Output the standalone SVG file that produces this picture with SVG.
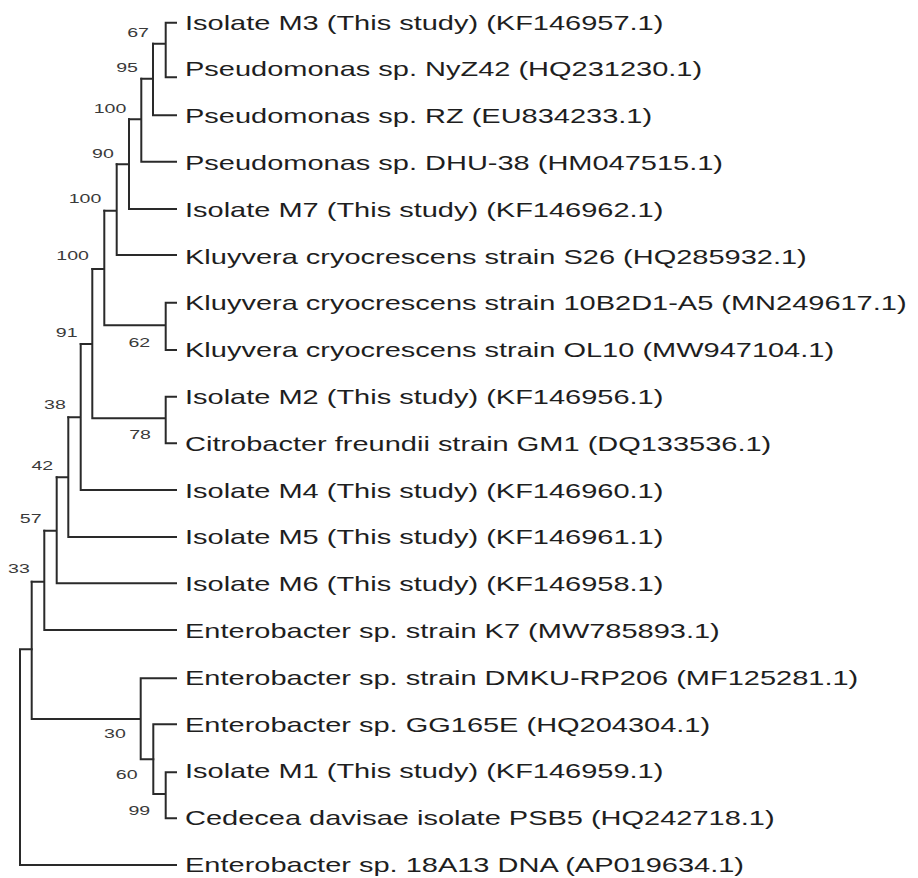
<svg xmlns="http://www.w3.org/2000/svg" width="918" height="878" viewBox="0 0 918 878">
<style>
.br{fill:none;stroke:#2a2a2a;stroke-width:2;stroke-linecap:square}
.lb{font-family:"Liberation Sans",Arial,sans-serif;font-size:20px;fill:#1e1e1e}
.bs{font-family:"Liberation Sans",Arial,sans-serif;font-size:13.5px;fill:#3a3a3a;text-anchor:middle}
</style>
<rect width="918" height="878" fill="#ffffff"/>
<g id="connectors">
<path class="br" d="M165.7,22.7V77.3M165.7,22.7H176M165.7,77.3H176M153,43.7H165.7"/>
<path class="br" d="M153,43.7V115.3H176M141.3,78.7H153"/>
<path class="br" d="M141.3,78.7V161.7H176M129,119.3H141.3"/>
<path class="br" d="M129,119.3V209H176M116.7,164.3H129"/>
<path class="br" d="M116.7,164.3V255H176M104.3,210.7H116.7"/>
<path class="br" d="M104.3,210.7V325.3H165.7M165.7,302.7V350M165.7,302.7H176M165.7,350H176M92.3,269H104.3"/>
<path class="br" d="M92.3,269V418.3H165.7M165.7,396.7V443.3M165.7,396.7H176M165.7,443.3H176M80.7,344H92.3"/>
<path class="br" d="M80.7,344V490H176M68.3,417.3H80.7"/>
<path class="br" d="M68.3,417.3V537H176M56.7,477.3H68.3"/>
<path class="br" d="M56.7,477.3V583.3H176M44.3,530.7H56.7"/>
<path class="br" d="M44.3,530.7V630H176M31.7,581.7H44.3"/>
<path class="br" d="M31.7,581.7V719H140.7M140.7,678.3V759.3M140.7,678.3H176M140.7,759.3H153.3"/>
<path class="br" d="M153.3,724.3V794M153.3,724.3H176M153.3,794H165.7M165.7,772.3V818.3M165.7,772.3H176M165.7,818.3H176"/>
<path class="br" d="M20,649.3H31.7M20,649.3V865H176"/>
</g>
<g id="leaves" transform="scale(1.45,1)">
<g id="leaf-M3"><text class="lb" x="127.6" y="29.7">Isolate M3 (This study) (KF146957.1)</text></g>
<g id="leaf-NyZ42"><text class="lb" x="127.6" y="76.5">Pseudomonas sp. NyZ42 (HQ231230.1)</text></g>
<g id="leaf-RZ"><text class="lb" x="127.6" y="123.3">Pseudomonas sp. RZ (EU834233.1)</text></g>
<g id="leaf-DHU38"><text class="lb" x="127.6" y="170.1">Pseudomonas sp. DHU-38 (HM047515.1)</text></g>
<g id="leaf-M7"><text class="lb" x="127.6" y="216.9">Isolate M7 (This study) (KF146962.1)</text></g>
<g id="leaf-S26"><text class="lb" x="127.6" y="263.7">Kluyvera cryocrescens strain S26 (HQ285932.1)</text></g>
<g id="leaf-10B2D1"><text class="lb" x="127.6" y="310.5">Kluyvera cryocrescens strain 10B2D1-A5 (MN249617.1)</text></g>
<g id="leaf-OL10"><text class="lb" x="127.6" y="357.3">Kluyvera cryocrescens strain OL10 (MW947104.1)</text></g>
<g id="leaf-M2"><text class="lb" x="127.6" y="404.1">Isolate M2 (This study) (KF146956.1)</text></g>
<g id="leaf-GM1"><text class="lb" x="127.6" y="450.9">Citrobacter freundii strain GM1 (DQ133536.1)</text></g>
<g id="leaf-M4"><text class="lb" x="127.6" y="497.7">Isolate M4 (This study) (KF146960.1)</text></g>
<g id="leaf-M5"><text class="lb" x="127.6" y="544.5">Isolate M5 (This study) (KF146961.1)</text></g>
<g id="leaf-M6"><text class="lb" x="127.6" y="591.3">Isolate M6 (This study) (KF146958.1)</text></g>
<g id="leaf-K7"><text class="lb" x="127.6" y="638.1">Enterobacter sp. strain K7 (MW785893.1)</text></g>
<g id="leaf-DMKU"><text class="lb" x="127.6" y="684.9">Enterobacter sp. strain DMKU-RP206 (MF125281.1)</text></g>
<g id="leaf-GG165E"><text class="lb" x="127.6" y="731.7">Enterobacter sp. GG165E (HQ204304.1)</text></g>
<g id="leaf-M1"><text class="lb" x="127.6" y="778.5">Isolate M1 (This study) (KF146959.1)</text></g>
<g id="leaf-PSB5"><text class="lb" x="127.6" y="825.3">Cedecea davisae isolate PSB5 (HQ242718.1)</text></g>
<g id="leaf-18A13"><text class="lb" x="127.6" y="872.1">Enterobacter sp. 18A13 DNA (AP019634.1)</text></g>
</g>
<g id="bootstrap" transform="scale(1.45,1)">
<text class="bs" x="95.2" y="36.9">67</text>
<text class="bs" x="87.6" y="72.2">95</text>
<text class="bs" x="75.9" y="112.6">100</text>
<text class="bs" x="71" y="157.6">90</text>
<text class="bs" x="58.6" y="202.6">100</text>
<text class="bs" x="50.1" y="260.2">100</text>
<text class="bs" x="96.1" y="346.6">62</text>
<text class="bs" x="46" y="337.2">91</text>
<text class="bs" x="37.9" y="408.9">38</text>
<text class="bs" x="96.6" y="439.2">78</text>
<text class="bs" x="29.2" y="469.9">42</text>
<text class="bs" x="21.2" y="523.2">57</text>
<text class="bs" x="13.1" y="572.6">33</text>
<text class="bs" x="79.3" y="738.2">30</text>
<text class="bs" x="87.4" y="779.2">60</text>
<text class="bs" x="96.1" y="814.9">99</text>
</g>
</svg>
